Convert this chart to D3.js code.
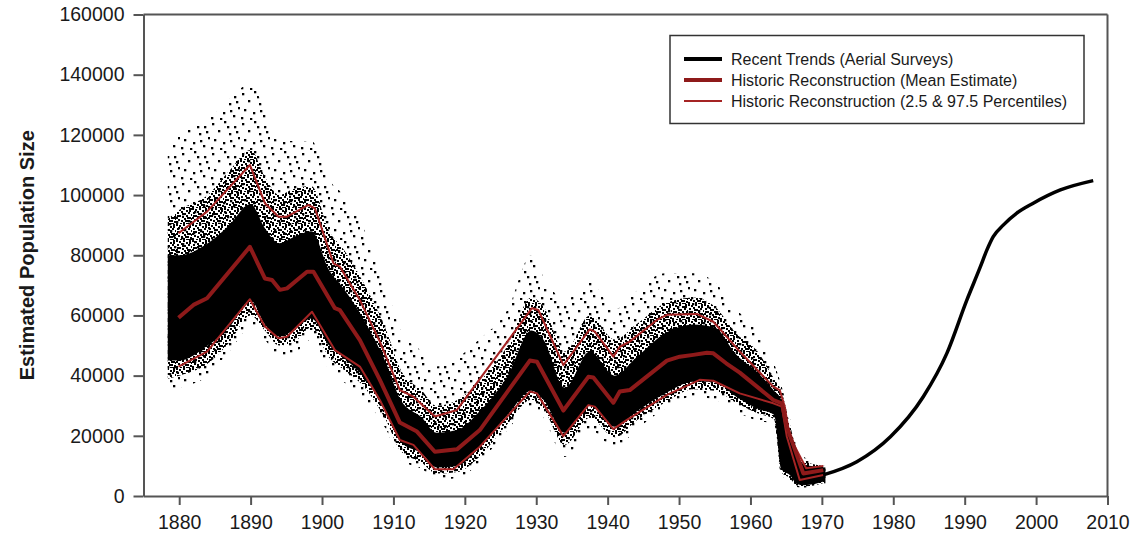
<!DOCTYPE html>
<html><head><meta charset="utf-8">
<script src="https://cdn.jsdelivr.net/npm/d3@7/dist/d3.min.js"></script>
<style>
body{margin:0;background:#fff}
svg{display:block}
text{font-family:"Liberation Sans",Arial,sans-serif}
</style>
</head><body>
<svg id="chart" width="1132" height="541"></svg>
<script>
// ---------- DATA ----------
const xTickValues = [1880,1890,1900,1910,1920,1930,1940,1950,1960,1970,1980,1990,2000,2010];
const yTickValues = [0,20000,40000,60000,80000,100000,120000,140000,160000];
const legendLabels = ["Recent Trends (Aerial Surveys)","Historic Reconstruction (Mean Estimate)","Historic Reconstruction (2.5 & 97.5 Percentiles)"];

// Historic reconstruction mean estimate
const meanYears  = [1879.9,1882.0,1883.9,1889.9,1892.0,1893.0,1894.1,1895.1,1897.9,1898.8,1901.8,1902.5,1905.3,1908.1,1910.9,1913.3,1915.8,1918.9,1922.1,1929.1,1930.1,1933.8,1937.3,1938.0,1940.8,1941.7,1943.1,1948.3,1950.1,1952.0,1953.9,1954.8,1956.6,1958.5,1963.2,1964.4,1965.1,1967.4,1970.2];
const meanValues = [59250,63500,65700,82800,72300,71800,68500,69000,74500,74500,62400,61800,51800,38600,24400,21400,14700,15500,21900,45000,44600,28400,39600,39400,31000,34700,35200,45000,46300,46900,47600,47400,44100,41000,31900,30800,23000,7500,8600];

// 97.5 percentile
const upperYears  = [1879.9,1883.9,1889.9,1892.0,1893.9,1895.1,1898.1,1899.0,1901.6,1902.5,1905.3,1908.1,1910.9,1912.8,1915.8,1918.9,1929.4,1930.3,1933.8,1937.5,1938.2,1940.8,1941.7,1943.1,1946.9,1948.3,1952.5,1954.8,1957.1,1958.5,1963.2,1964.1,1964.8,1965.5,1967.8,1970.2];
const upperValues = [87300,94500,110000,97300,92800,92800,96700,95600,77300,76200,65100,51300,35200,33000,26400,28600,62400,61800,43500,55400,54600,46300,49600,51300,58500,60200,60500,57900,51800,48000,36300,35200,29700,19700,9200,10000];

// 2.5 percentile
const lowerYears  = [1879.9,1883.9,1889.9,1892.0,1893.9,1895.1,1898.6,1901.8,1905.3,1908.1,1910.9,1912.8,1915.8,1918.4,1922.1,1929.1,1930.1,1933.8,1937.3,1938.2,1940.8,1942.7,1948.3,1952.9,1954.8,1958.5,1963.2,1964.4,1965.1,1966.9,1970.2];
const lowerValues = [43000,48000,65400,56300,52400,52900,61200,48500,43000,31900,18600,17000,8900,8900,16400,34700,34100,19900,30200,29700,22200,25300,33600,38600,38300,34100,30800,29700,19700,5300,7000];

// Recent trends (aerial surveys)
const recentYears  = [1970.2,1974.9,1979.6,1984.2,1987.5,1990.3,1992.2,1993.1,1994.0,1995.4,1997.3,1999.6,2003.4,2008.0];
const recentValues = [7000,11400,19700,33000,47400,65100,76200,81700,86200,90000,94000,97300,101700,104800];

// Simulated reconstruction samples: envelopes of the point cloud
const cloudYears    = [1878.4,1880,1884,1887,1890,1892,1894,1896,1898.5,1901,1903,1906,1909,1911,1914,1916,1919,1922,1926,1929.3,1931,1934,1937.5,1941,1944,1948,1952,1955,1958,1961,1963.3,1964.3,1965.5,1966.5,1967.5,1970.5];
const cloudOuterHi  = [115000,120000,125000,132000,137000,128000,118000,118000,118000,105000,100000,88000,70000,55000,48000,43000,46000,52000,62000,80000,73000,65000,71000,62000,68000,74000,74000,71000,62000,55000,44000,37000,26000,17000,13000,10500];
const cloudMidHi    = [92000,95000,100000,108000,115000,106000,100000,102000,103000,88000,82000,70000,55000,42000,35000,30000,32000,38000,50000,66000,63000,48000,60000,52000,57000,64000,66000,63000,54000,48000,39000,35000,24000,15000,11500,10000];
const cloudCoreHi   = [80000,80000,84000,90000,97000,89000,84000,86000,88000,75000,69000,58000,44000,32000,26000,21000,22000,28000,40000,55000,52000,36000,48000,40000,46000,54000,57000,56000,47000,41000,35000,32000,21000,14000,10500,9500];
const cloudCoreLo   = [45000,45000,50000,56000,65000,57000,53000,55000,59000,50000,46000,39000,28000,18000,14000,9500,10000,16000,27000,35000,32000,21000,30000,23000,28000,34000,38000,38000,33000,29000,27000,9000,7000,4000,3600,5000];
const cloudMidLo    = [39000,40000,44000,51000,60000,55000,50000,51000,56000,46000,42000,36000,25000,15000,11000,7500,8000,13000,24000,32000,29000,17000,26000,19500,25000,31000,35500,35000,31000,27500,25500,8000,6000,3500,3200,4500];
const cloudOuterLo  = [35000,36000,40000,48000,56000,52000,46000,47000,52000,42000,38000,32000,22000,12000,9000,5500,6000,11000,22000,30000,26000,13000,22000,16000,22000,29000,33000,32000,28000,25000,24000,7000,5000,3000,2800,4000];

// ---------- CHART ----------
const svg = d3.select("#chart");
const x = d3.scaleLinear().domain([1875, 2010]).range([143.5, 1107.5]);
const y = d3.scaleLinear().domain([0, 160000]).range([496, 14.5]);

const axisColor = "#555";
const meanColor = "#8e1a1a";
const pctColor  = "#a52424";

// dot patterns for the point cloud
const defs = svg.append("defs");
const midDots = [[0,0],[3,1],[7,0],[10,2],[13,0],[1,4],[5,3],[8,5],[12,4],[15,6],[3,7],[6,8],[10,7],[13,9],[0,9],[2,11],[5,12],[8,10],[11,12],[14,13],[0,14],[4,15],[7,14],[10,15],[13,2],[6,5],[15,10],[9,12],[1,7],[12,15],[11,9]];
const pm = defs.append("pattern").attr("id","dotsMid").attr("patternUnits","userSpaceOnUse")
  .attr("width",16).attr("height",16);
pm.selectAll("rect").data(midDots).join("rect")
  .attr("x",d=>d[0]).attr("y",d=>d[1]).attr("width",2).attr("height",2).attr("fill","#000");
const outerDots = [[2,3],[14,1],[24,6],[8,10],[19,13],[28,17],[4,19],[13,22],[23,25],[1,27],[10,28],[17,6],[26,11],[20,20]];
const po = defs.append("pattern").attr("id","dotsOuter").attr("patternUnits","userSpaceOnUse")
  .attr("width",30).attr("height",30);
po.selectAll("rect").data(outerDots).join("rect")
  .attr("x",d=>d[0]).attr("y",d=>d[1]).attr("width",2.3).attr("height",2.3).attr("fill","#000");

const cloud = cloudYears.map((yr,i)=>({yr, oh:cloudOuterHi[i], mh:cloudMidHi[i], ch:cloudCoreHi[i], cl:cloudCoreLo[i], ml:cloudMidLo[i], ol:cloudOuterLo[i]}));
const areaGen = (lo, hi) => d3.area().x(d=>x(d.yr)).y0(d=>y(d[lo])).y1(d=>y(d[hi])).curve(d3.curveMonotoneX);

svg.append("path").datum(cloud).attr("d", areaGen("ol","oh")).attr("fill","url(#dotsOuter)");
svg.append("path").datum(cloud).attr("d", areaGen("ml","mh")).attr("fill","url(#dotsMid)");
svg.append("path").datum(cloud).attr("d", areaGen("cl","ch")).attr("fill","#000");

// axes
const yAxis = d3.axisLeft(y).tickValues(yTickValues).tickFormat(d3.format("d")).tickSize(10).tickSizeOuter(0).tickPadding(9);
const gy = svg.append("g").attr("transform",`translate(${x(1875)},0)`).call(yAxis);
const xAxis = d3.axisBottom(x).tickValues(xTickValues).tickFormat(d3.format("d")).tickSize(9).tickSizeOuter(0).tickPadding(10);
const gx = svg.append("g").attr("transform",`translate(0,${y(0)})`).call(xAxis);
[gx, gy].forEach(g=>{
  g.selectAll("path.domain").attr("stroke",axisColor).attr("stroke-width",2);
  g.selectAll(".tick line").attr("stroke",axisColor).attr("stroke-width",2);
  g.selectAll(".tick text").attr("fill","#1a1a1a").style("font-size","19.5px").style("font-family",'"Liberation Sans",Arial,sans-serif');
});
// frame top and right
svg.append("line").attr("x1",x(1875)).attr("x2",x(2010)).attr("y1",y(160000)).attr("y2",y(160000)).attr("stroke",axisColor).attr("stroke-width",2);
svg.append("line").attr("x1",x(2010)).attr("x2",x(2010)).attr("y1",y(160000)).attr("y2",y(0)).attr("stroke",axisColor).attr("stroke-width",2);

// y title
svg.append("text").attr("transform",`translate(34,${(y(0)+y(160000))/2}) rotate(-90)`)
  .attr("text-anchor","middle").style("font-size","20px").style("font-weight","bold").attr("fill","#1a1a1a")
  .text("Estimated Population Size");

// lines
const lineGen = d3.line().x(d=>x(d[0])).y(d=>y(d[1]));
const zip = (a,b)=>a.map((v,i)=>[v,b[i]]);
svg.append("path").datum(zip(upperYears,upperValues)).attr("d",lineGen).attr("fill","none").attr("stroke",pctColor).attr("stroke-width",2).attr("stroke-linejoin","round");
svg.append("path").datum(zip(lowerYears,lowerValues)).attr("d",lineGen).attr("fill","none").attr("stroke",pctColor).attr("stroke-width",2).attr("stroke-linejoin","round");
svg.append("path").datum(zip(meanYears,meanValues)).attr("d",lineGen).attr("fill","none").attr("stroke",meanColor).attr("stroke-width",4).attr("stroke-linejoin","round");
svg.append("path").datum(zip(recentYears,recentValues)).attr("d",d3.line().x(d=>x(d[0])).y(d=>y(d[1])).curve(d3.curveMonotoneX))
  .attr("fill","none").attr("stroke","#000").attr("stroke-width",3.5);

// legend
const lg = svg.append("g");
lg.append("rect").attr("x",670).attr("y",35.5).attr("width",414).attr("height",88).attr("fill","#fff").attr("stroke","#333").attr("stroke-width",1.5);
const legendStyles = [{c:"#000",w:4},{c:meanColor,w:4},{c:pctColor,w:2}];
legendLabels.forEach((lab,i)=>{
  const yy = 59 + i*21;
  lg.append("line").attr("x1",684).attr("x2",722).attr("y1",yy).attr("y2",yy).attr("stroke",legendStyles[i].c).attr("stroke-width",legendStyles[i].w);
  lg.append("text").attr("x",731).attr("y",yy).attr("dy","0.35em").style("font-size","16px").attr("fill","#1a1a1a").text(lab);
});
</script>
</body></html>
